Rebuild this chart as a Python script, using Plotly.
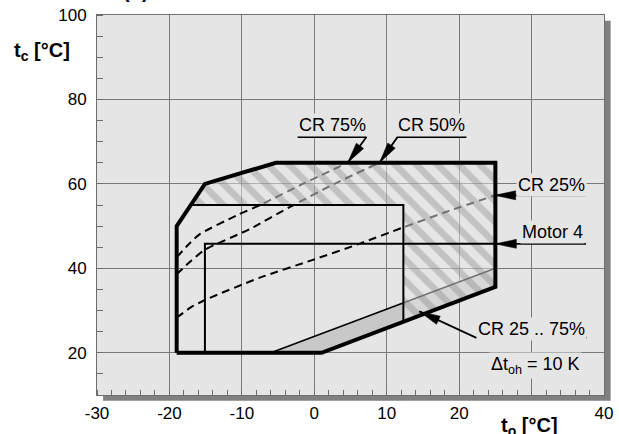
import plotly.graph_objects as go

# ---------------- data ----------------
# operating envelope (thick outline)
env_x = [-19, 1, 25, 25, -5.3, -15.1, -19, -19]
env_y = [20, 20, 35.6, 65, 65, 60, 50, 20]
# grey band at the bottom right
band_x = [-6, 1, 25, 25, -6]
band_y = [20, 20, 35.6, 40, 20]
band_top_x = [-6, 25]
band_top_y = [20, 40]
# inner limit (CR 25 .. 75 % area boundary)
lim_x = [-17.05, 12.3, 12.3]
lim_y = [55, 55, 27.35]
# Motor 4 limit
mot_x = [-15.1, -15.1, 25]
mot_y = [20, 45.8, 45.8]
# hatched region (CR 25 .. 75 %)
hat_x = [-17.05, -15.1, -5.3, 25, 25, 12.3, 12.3, -17.05]
hat_y = [55, 60, 65, 65, 35.6, 27.35, 55, 55]
# dashed capacity-regulation curves
cr75_x = [-19, -17.4, -15.8, -10.5, -7.1, -1.6, 4.6]
cr75_y = [42.6, 45.6, 48.1, 52.7, 55.3, 60, 65]
cr50_x = [-19, -17, -15.1, -8.9, -3.4, 3, 9]
cr50_y = [38.6, 41.8, 44.4, 49.3, 54.5, 60.2, 65]
cr25_x = [-19, -17, -15.1, -7.5, -0.2, 6.2, 12.3, 18.6, 25]
cr25_y = [28.3, 30.8, 32.5, 37.8, 42, 45.8, 49.7, 53.6, 57.3]

# axis ticks
x_ticks = [-30, -20, -10, 0, 10, 20, 30, 40]
x_labels = ["-30", "-20", "-10", "0", "10", "20", " ", "40"]
y_ticks = [20, 40, 60, 80, 100]
y_labels = ["20", "40", "60", "80", "100"]

# leader lines: (x list, y list) ending at the arrow tip
arrows = [
    ([-2.3, 7.2, 4.6], [71.1, 71.1, 65]),        # CR 75%
    ([21.0, 11.5, 9.0], [71.1, 71.1, 65]),       # CR 50%
    ([37.5, 24.9], [57.3, 57.3]),                # CR 25%
    ([37.5, 25.0], [45.8, 45.8]),                # Motor 4
    ([37.6, 22.3, 14.5], [23.6, 23.6, 29.8]),    # CR 25 .. 75%
]
labels = [
    ("CR 75%", 2.5, 73.9),
    ("CR 50%", 16.2, 73.9),
    ("CR 25%", 32.7, 59.8),
    ("Motor 4", 32.9, 48.6),
    ("CR 25 .. 75%", 30.0, 25.7),
    ("Δt<sub>oh</sub> = 10 K", 30.6, 17.0),
]

X_RANGE = [-30, 40]
Y_RANGE = [10, 100]
W, H = 619, 434
M = dict(l=97, r=15, t=15, b=39)
PLOT_W = W - M["l"] - M["r"]
PLOT_H = H - M["t"] - M["b"]
KX = PLOT_W / (X_RANGE[1] - X_RANGE[0])   # px per x unit
KY = PLOT_H / (Y_RANGE[1] - Y_RANGE[0])   # px per y unit

FONT = "Liberation Sans, Arial, sans-serif"
BG = "#e5e5e5"

fig = go.Figure()

# grey band
fig.add_trace(go.Scatter(x=band_x, y=band_y, mode="lines", fill="toself",
                         fillcolor="#c8c8c8", line=dict(width=0), hoverinfo="skip"))
fig.add_trace(go.Scatter(x=band_top_x, y=band_top_y, mode="lines",
                         line=dict(color="black", width=1.6), hoverinfo="skip"))

# dashed curves
for cx, cy in [(cr75_x, cr75_y), (cr50_x, cr50_y), (cr25_x, cr25_y)]:
    fig.add_trace(go.Scatter(x=cx, y=cy, mode="lines",
                             line=dict(color="black", width=2, dash="8px,5px",
                                       shape="spline", smoothing=0.6),
                             hoverinfo="skip"))

# hatched overlay
fig.add_trace(go.Scatter(x=hat_x, y=hat_y, mode="lines", fill="toself",
                         fillcolor="rgba(229,229,229,0.5)",
                         fillpattern=dict(shape="\\", fgcolor="rgb(110,110,110)",
                                          fgopacity=0.3, size=15, solidity=0.45,
                                          fillmode="overlay"),
                         line=dict(width=0), hoverinfo="skip"))

# inner limits
fig.add_trace(go.Scatter(x=lim_x, y=lim_y, mode="lines",
                         line=dict(color="black", width=2), hoverinfo="skip"))
fig.add_trace(go.Scatter(x=mot_x, y=mot_y, mode="lines",
                         line=dict(color="black", width=2), hoverinfo="skip"))

# envelope
fig.add_trace(go.Scatter(x=env_x, y=env_y, mode="lines",
                         line=dict(color="black", width=4), hoverinfo="skip"))

# leader lines with slender filled arrowheads
HEAD_LEN, HEAD_HALF = 21.0, 4.5
for ax_, ay_ in arrows:
    fig.add_trace(go.Scatter(x=ax_, y=ay_, mode="lines",
                             line=dict(color="black", width=1.8), hoverinfo="skip"))
    # arrowhead computed in pixel space from the last segment
    x0, y0, x1, y1 = ax_[-2], ay_[-2], ax_[-1], ay_[-1]
    dxp, dyp = (x1 - x0) * KX, (y1 - y0) * KY
    n = (dxp ** 2 + dyp ** 2) ** 0.5
    ux, uy = dxp / n, dyp / n
    bx, by = -ux * HEAD_LEN, -uy * HEAD_LEN
    px_, py_ = -uy * HEAD_HALF, ux * HEAD_HALF
    hx = [x1, x1 + (bx + px_) / KX, x1 + (bx - px_) / KX, x1]
    hy = [y1, y1 + (by + py_) / KY, y1 + (by - py_) / KY, y1]
    fig.add_trace(go.Scatter(x=hx, y=hy, mode="lines", fill="toself",
                             fillcolor="black", line=dict(color="black", width=0.5),
                             hoverinfo="skip"))

annotations = []
for txt, lx, ly in labels:
    annotations.append(dict(x=lx, y=ly, xref="x", yref="y", text=txt, showarrow=False,
                            font=dict(family=FONT, size=18, color="black"),
                            bgcolor=BG, borderpad=1, xanchor="center", yanchor="middle"))

annotations += [
    dict(x=-0.108, y=0.905, xref="paper", yref="paper", showarrow=False,
         text="<b>t<sub>c</sub> [°C]</b>", font=dict(family=FONT, size=20, color="black"),
         xanchor="center", yanchor="middle"),
    dict(x=0.854, y=-0.084, xref="paper", yref="paper", showarrow=False,
         text="<b>t<sub>o</sub> [°C]</b>", font=dict(family=FONT, size=20, color="black"),
         xanchor="center", yanchor="middle"),
    dict(x=0.077, y=1.028, xref="paper", yref="paper", showarrow=False,
         text="<b>(b)</b>", font=dict(family=FONT, size=20, color="black"),
         xanchor="center", yanchor="bottom"),
]

shapes = [
    dict(type="rect", xref="paper", yref="paper", x0=0.012, x1=1.013, y0=-0.015, y1=0.985,
         fillcolor="#808080", line=dict(width=0), layer="below"),
    dict(type="rect", xref="paper", yref="paper", x0=0, x1=1, y0=0, y1=1,
         fillcolor=BG, line=dict(width=0), layer="below"),
]

fig.update_layout(
    width=W, height=H,
    margin=dict(**M, autoexpand=False),
    paper_bgcolor="white", plot_bgcolor="rgba(0,0,0,0)",
    showlegend=False,
    font=dict(family=FONT, size=17, color="black"),
    annotations=annotations, shapes=shapes,
)
fig.update_xaxes(range=X_RANGE, tickvals=x_ticks, ticktext=x_labels,
                 automargin=False, ticklabeloverflow="allow",
                 showgrid=True, gridcolor="#7a7a7a", gridwidth=1,
                 showline=True, linecolor="#6e6e6e", linewidth=1, mirror=True,
                 ticks="", zeroline=False, ticklabelstandoff=3,
                 tickfont=dict(family=FONT, size=17, color="black"),
                 minor=dict(dtick=2, ticks="inside", ticklen=5, tickcolor="#6e6e6e",
                            showgrid=False))
fig.update_yaxes(range=Y_RANGE, tickvals=y_ticks, ticktext=y_labels,
                 automargin=False, ticklabeloverflow="allow",
                 showgrid=True, gridcolor="#7a7a7a", gridwidth=1,
                 showline=True, linecolor="#6e6e6e", linewidth=1, mirror=True,
                 ticks="", zeroline=False, ticklabelstandoff=6,
                 tickfont=dict(family=FONT, size=17, color="black"),
                 minor=dict(dtick=5, ticks="inside", ticklen=6, tickcolor="#6e6e6e",
                            showgrid=False))

fig.write_html("out.html", config={"displayModeBar": False},
               post_script="document.body.style.margin='0';document.body.style.overflow='hidden';")
